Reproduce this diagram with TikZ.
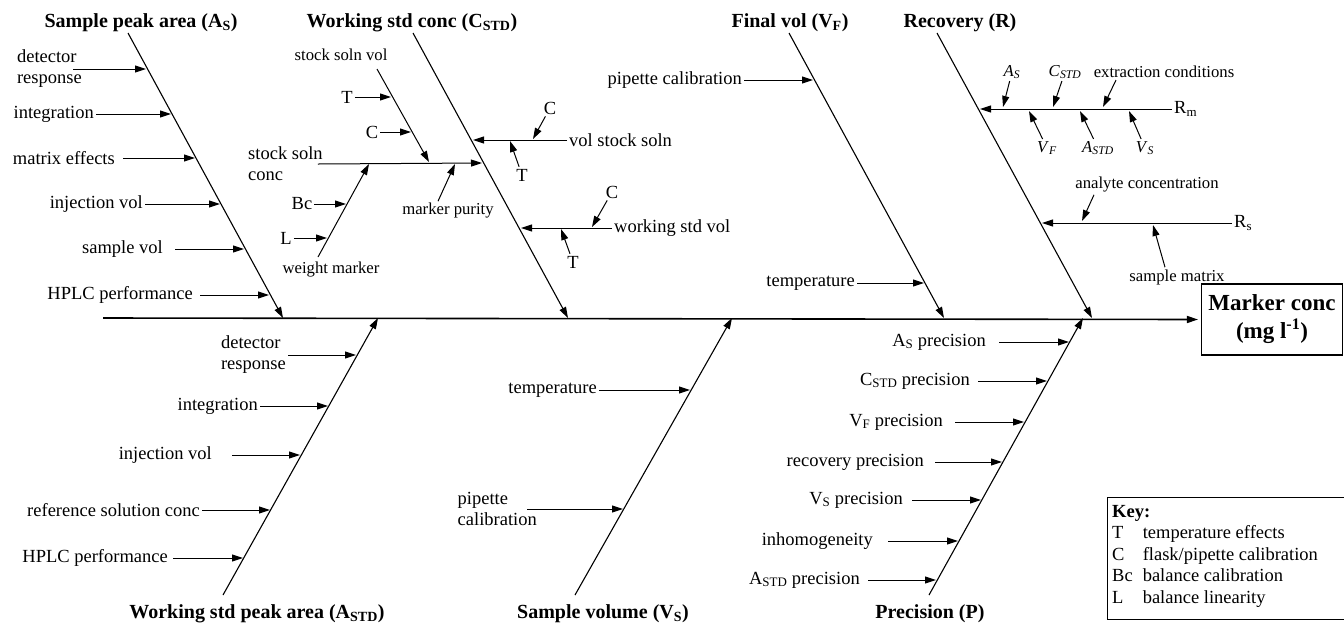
\documentclass[tikz,border=0pt]{standalone}
\usepackage{fontspec}
\setmainfont{Liberation Serif}
\usetikzlibrary{arrows.meta,positioning,calc}

\begin{document}
\begin{tikzpicture}[
  x=1pt, y=-1pt,
  font=\fontsize{18.5}{21}\selectfont,
  >={Triangle[length=11pt,width=7pt]},
  spine/.style={line width=1.6pt, ->, shorten >=3pt},
  bone/.style={line width=1.1pt, ->},
  cause/.style={line width=1pt, ->},
  lbl/.style={inner sep=2pt},
  slbl/.style={inner sep=2pt, font=\fontsize{16.7}{19}\selectfont},
  cattitle/.style={font=\bfseries\fontsize{20}{24}\selectfont, inner sep=0pt},
  outbox/.style={draw, line width=1.1pt, align=center, inner sep=0pt,
    font=\bfseries\fontsize{23}{28}\selectfont, minimum width=141pt, minimum height=71pt},
  keyframe/.style={draw, line width=0.8pt, anchor=north west, inner sep=0pt,
    minimum width=240pt, minimum height=122pt}
]
\useasboundingbox (0,0) rectangle (1344,625);

% ----- Bone end points
\coordinate (B1t) at (128,33);  \coordinate (B1e) at (283,318);
\coordinate (B2t) at (413,33);  \coordinate (B2e) at (568,318);
\coordinate (B3t) at (789,33);  \coordinate (B3e) at (944,318);
\coordinate (B4t) at (937,33);  \coordinate (B4e) at (1092,318);
\coordinate (B5b) at (223,595); \coordinate (B5e) at (378,318);
\coordinate (B6b) at (575,595); \coordinate (B6e) at (732,318);
\coordinate (B7b) at (929,595); \coordinate (B7e) at (1083,318);
\coordinate (S0) at (103,318);

% ----- Result box and spine
\node[outbox] (out) at (1272,319.5) {Marker conc\\(mg l\textsuperscript{-1})};
\draw[spine] (S0) -- (out.west);

% ----- Category titles
\node[cattitle] (tAs)   at (141,23)  {Sample peak area (A\textsubscript{S})};
\node[cattitle] (tCstd) at (412,23)  {Working std conc (C\textsubscript{STD})};
\node[cattitle] (tVf)   at (790,23)  {Final vol (V\textsubscript{F})};
\node[cattitle] (tR)    at (960,23)  {Recovery (R)};
\node[cattitle] (tAstd) at (257,614) {Working std peak area (A\textsubscript{STD})};
\node[cattitle] (tVs)   at (603,614) {Sample volume (V\textsubscript{S})};
\node[cattitle] (tP)    at (930,614) {Precision (P)};

\draw[bone] (B1t) -- (B1e);
\draw[bone] (B2t) -- (B2e);
\draw[bone] (B3t) -- (B3e);
\draw[bone] (B4t) -- (B4e);
\draw[bone] (B5b) -- (B5e);
\draw[bone] (B6b) -- (B6e);
\draw[bone] (B7b) -- (B7e);

% ----- Sample peak area
\node[lbl, anchor=east, align=left] (dr1) at (84,69) {detector\\response};
\node[lbl, anchor=east] (in1) at (96,114)  {integration};
\node[lbl, anchor=east] (me1) at (117,158) {matrix effects};
\node[lbl, anchor=east] (iv1) at (145,204) {injection vol};
\node[lbl, anchor=east] (sv1) at (165,249) {sample vol};
\node[lbl, anchor=east] (hp1) at (195,295) {HPLC performance};
\coordinate (dr1t) at (146,69);  \coordinate (in1t) at (171,114);
\coordinate (me1t) at (195,158); \coordinate (iv1t) at (220,204);
\coordinate (sv1t) at (244,249); \coordinate (hp1t) at (269,295);
\draw[cause] ([xshift=-11pt]dr1.east) -- (dr1t);
\draw[cause] (in1) -- (in1t);
\draw[cause, shorten <=6pt] (me1) -- (me1t);
\draw[cause] (iv1) -- (iv1t);
\draw[cause, shorten <=10pt] (sv1) -- (sv1t);
\draw[cause, shorten <=5pt] (hp1) -- (hp1t);

% ----- Working std conc
\node[slbl] (ssv) at (341,55) {stock soln vol};
\coordinate (ssvs) at (377,69); \coordinate (ssve) at (429,162);
\draw[cause] (ssvs) -- (ssve);
\node[lbl] (T1) at (347,97)  {T};
\node[lbl] (C1) at (372,132) {C};
\coordinate (T1t) at (391,97); \coordinate (C1t) at (411,132);
\draw[cause] (T1) -- (T1t);
\draw[cause] (C1) -- (C1t);

\node[lbl, anchor=west, align=left] (ssc) at (246,164) {stock soln\\conc};
\coordinate (ssct) at (482,163);
\draw[cause] ([xshift=-7pt]ssc.east) -- (ssct);

\node[slbl] (wm) at (331,270) {weight marker};
\coordinate (wms) at (318,257); \coordinate (wme) at (369,164);
\draw[cause] (wms) -- (wme);
\node[lbl] (Bc) at (302,204) {Bc};
\node[lbl] (L1) at (286,238) {L};
\coordinate (Bct) at (346,204); \coordinate (L1t) at (327,238);
\draw[cause] (Bc) -- (Bct);
\draw[cause] (L1) -- (L1t);

\node[slbl] (mp) at (448,211) {marker purity};
\coordinate (mpt) at (455,164);
\draw[cause] ([xshift=-10pt]mp.north) -- (mpt);

\node[lbl, anchor=west] (vss) at (567,140) {vol stock soln};
\coordinate (vsst) at (473,140);
\draw[cause] (vss) -- (vsst);
\node[lbl] (C2) at (550,108) {C};
\node[lbl] (T2) at (522,175) {T};
\coordinate (C2t) at (533,139); \coordinate (T2t) at (510,141);
\draw[cause] (C2) -- (C2t);
\draw[cause] (T2) -- (T2t);

\node[lbl, anchor=west] (wsv) at (612,228) {working std vol};
\coordinate (wsvt) at (521,228);
\draw[cause] (wsv) -- (wsvt);
\node[lbl] (C3) at (612,192) {C};
\node[lbl] (T3) at (573,262) {T};
\coordinate (C3t) at (592,227); \coordinate (T3t) at (561,229);
\draw[cause] (C3) -- (C3t);
\draw[cause] (T3) -- (T3t);

% ----- Final vol
\node[lbl, anchor=east] (pc1) at (744,80)  {pipette calibration};
\node[lbl, anchor=east] (tp1) at (857,283) {temperature};
\coordinate (pc1t) at (813,80); \coordinate (tp1t) at (924,283);
\draw[cause] (pc1) -- (pc1t);
\draw[cause] (tp1) -- (tp1t);

% ----- Recovery
\node[lbl, anchor=west] (Rm) at (1172,109) {R\textsubscript{m}};
\coordinate (Rmt) at (980,109);
\draw[cause] (Rm) -- (Rmt);
\node[slbl] (rAs)   at (1012,72)  {\textit{A}\textsubscript{\textit{S}}};
\node[slbl] (rCstd) at (1065,72)  {\textit{C}\textsubscript{\textit{STD}}};
\node[slbl] (ec)    at (1164,72)  {extraction conditions};
\node[slbl] (rVf)   at (1047,148) {\textit{V}\textsubscript{\textit{F}}};
\node[slbl] (rAstd) at (1098,148) {\textit{A}\textsubscript{\textit{STD}}};
\node[slbl] (rVs)   at (1145,148) {\textit{V}\textsubscript{\textit{S}}};
\coordinate (rAst)   at (1003,107); \coordinate (rCstdt) at (1053,107);
\coordinate (ect)    at (1103,107); \coordinate (rVft)   at (1029,111);
\coordinate (rAstdt) at (1080,111); \coordinate (rVst)   at (1129,111);
\draw[cause] (rAs) -- (rAst);
\draw[cause] (rCstd) -- (rCstdt);
\draw[cause] ([xshift=-48pt]ec.south) -- (ect);
\draw[cause] (rVf) -- (rVft);
\draw[cause] (rAstd) -- (rAstdt);
\draw[cause] (rVs) -- (rVst);

\node[lbl, anchor=west] (Rs) at (1232,223) {R\textsubscript{s}};
\coordinate (Rst) at (1042,223);
\draw[cause] (Rs) -- (Rst);
\node[slbl] (ac) at (1147,185) {analyte concentration};
\node[slbl] (sm) at (1177,277) {sample matrix};
\coordinate (act) at (1082,221); \coordinate (smt) at (1153,225);
\draw[cause] ([xshift=-53pt]ac.south) -- (act);
\draw[cause] ([xshift=-12pt]sm.north) -- (smt);

% ----- Working std peak area
\node[lbl, anchor=east, align=left] (dr2) at (288,355) {detector\\response};
\node[lbl, anchor=east] (in2)  at (260,406) {integration};
\node[lbl, anchor=east] (iv2)  at (214,455) {injection vol};
\node[lbl, anchor=east] (rsc2) at (202,510) {reference solution conc};
\node[lbl, anchor=east] (hp2)  at (170,558) {HPLC performance};
\coordinate (dr2t)  at (356,355); \coordinate (in2t) at (328,406);
\coordinate (iv2t)  at (300,455); \coordinate (rsc2t) at (270,510);
\coordinate (hp2t)  at (243,558);
\draw[cause] (dr2) -- (dr2t);
\draw[cause] (in2) -- (in2t);
\draw[cause, shorten <=18pt] (iv2) -- (iv2t);
\draw[cause] (rsc2) -- (rsc2t);
\draw[cause, shorten <=3pt] (hp2) -- (hp2t);

% ----- Sample volume
\node[lbl, anchor=east] (tp2) at (599,390) {temperature};
\node[lbl, anchor=east, align=left] (pc2) at (539,509) {pipette\\calibration};
\coordinate (tp2t) at (690,390); \coordinate (pc2t) at (623,509);
\draw[cause] (tp2) -- (tp2t);
\draw[cause] ([xshift=-12pt]pc2.east) -- (pc2t);

% ----- Precision
\node[lbl, anchor=east] (pAs)   at (988,342) {A\textsubscript{S} precision};
\node[lbl, anchor=east] (pCstd) at (972,381) {C\textsubscript{STD} precision};
\node[lbl, anchor=east] (pVf)   at (945,422) {V\textsubscript{F} precision};
\node[lbl, anchor=east] (pR)    at (926,462) {recovery precision};
\node[lbl, anchor=east] (pVs)   at (905,500) {V\textsubscript{S} precision};
\node[lbl, anchor=east] (pIn)   at (875,541) {inhomogeneity};
\node[lbl, anchor=east] (pAstd) at (862,580) {A\textsubscript{STD} precision};
\coordinate (pAst)  at (1069,342); \coordinate (pCstdt) at (1047,381);
\coordinate (pVft)  at (1024,422); \coordinate (pRt)    at (1002,462);
\coordinate (pVst)  at (981,500);  \coordinate (pInt)   at (958,541);
\coordinate (pAstdt) at (936,580);
\draw[cause, shorten <=11pt] (pAs) -- (pAst);
\draw[cause, shorten <=6pt]  (pCstd) -- (pCstdt);
\draw[cause, shorten <=10pt] (pVf) -- (pVft);
\draw[cause, shorten <=9pt]  (pR) -- (pRt);
\draw[cause, shorten <=7pt]  (pVs) -- (pVst);
\draw[cause, shorten <=13pt] (pIn) -- (pInt);
\draw[cause, shorten <=6pt]  (pAstd) -- (pAstdt);

% ----- Key
\node[keyframe] (keybox) at (1107,497) {};
\node[anchor=north west, inner sep=0pt, font=\fontsize{18.5}{21.5}\selectfont]
  (key) at ([xshift=5pt,yshift=-5pt]keybox.north west)
  {\begin{tabular}{@{}l@{\hspace{10pt}}l@{}}
    \multicolumn{2}{@{}l@{}}{\textbf{Key:}}\\
    T  & temperature effects\\
    C  & flask/pipette calibration\\
    Bc & balance calibration\\
    L  & balance linearity
  \end{tabular}};

\end{tikzpicture}
\end{document}
